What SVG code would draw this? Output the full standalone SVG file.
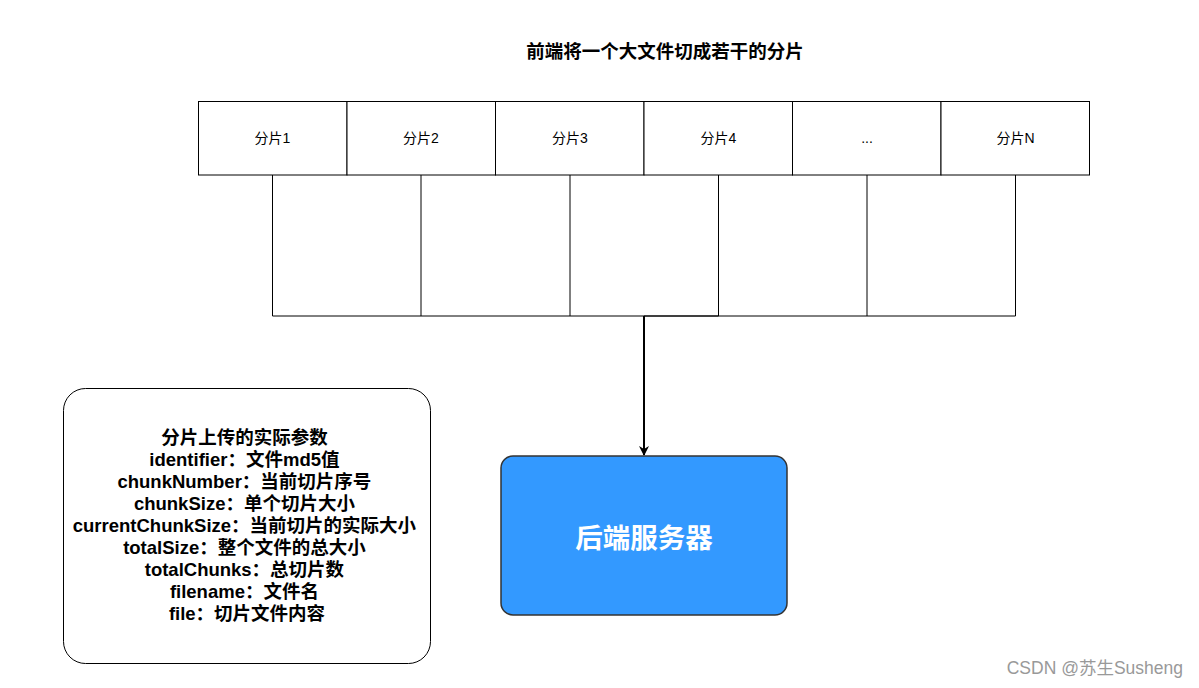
<svg xmlns="http://www.w3.org/2000/svg" width="1199" height="688" viewBox="0 0 1199 688">
<defs>
<style>
.cell{fill:#fff;stroke:#000;stroke-width:1}
.lbl{font-family:"Liberation Sans","Noto Sans CJK SC",sans-serif;font-size:14px;fill:#000;text-anchor:middle;dominant-baseline:central}
.edge{fill:none;stroke:#000;stroke-width:1}
.b{font-family:"Liberation Sans","Noto Sans CJK SC",sans-serif;font-weight:bold;text-anchor:middle}
</style>
<marker id="arr" viewBox="0 0 10 10" refX="9" refY="5" markerWidth="10" markerHeight="10" markerUnits="userSpaceOnUse" orient="auto">
<path d="M0,0 L10,5 L0,10 L3,5 Z" fill="#000"/>
</marker>
</defs>
<rect width="1199" height="688" fill="#fff"/>
<g id="title"><text class="b" x="665" y="57.5" font-size="18.5" fill="#000">前端将一个大文件切成若干的分片</text></g>
<g id="connectors">
<path class="edge" d="M272.5,175 V316 H644"/>
<path class="edge" d="M421,175 V316"/>
<path class="edge" d="M570,175 V316"/>
<path class="edge" d="M718.5,175 V316 H644"/>
<path class="edge" d="M867,175 V316"/>
<path class="edge" d="M1015.5,175 V316 H644"/>
<path d="M644,316 V455" fill="none" stroke="#000" stroke-width="2" marker-end="url(#arr)"/>
</g>
<g id="cell1"><rect class="cell" x="198.5" y="101.5" width="148.5" height="73.5"/><text class="lbl" x="272.5" y="137.5">分片1</text></g>
<g id="cell2"><rect class="cell" x="347" y="101.5" width="148.5" height="73.5"/><text class="lbl" x="421" y="137.5">分片2</text></g>
<g id="cell3"><rect class="cell" x="495.5" y="101.5" width="148.5" height="73.5"/><text class="lbl" x="570" y="137.5">分片3</text></g>
<g id="cell4"><rect class="cell" x="644" y="101.5" width="148.5" height="73.5"/><text class="lbl" x="718.5" y="137.5">分片4</text></g>
<g id="cell5"><rect class="cell" x="792.5" y="101.5" width="148.5" height="73.5"/><text class="lbl" x="867" y="137.5">...</text></g>
<g id="cell6"><rect class="cell" x="941" y="101.5" width="148.5" height="73.5"/><text class="lbl" x="1015.5" y="137.5">分片N</text></g>
<g id="params">
<rect x="63.5" y="388.5" width="367" height="275" rx="22" ry="22" fill="#fff" stroke="#000" stroke-width="1"/>
<text class="b" font-size="18.5" fill="#000">
<tspan x="247" y="443.5">分片上传的实际参数</tspan>
<tspan x="247" y="465.5">identifier：文件md5值</tspan>
<tspan x="247" y="487.5">chunkNumber：当前切片序号</tspan>
<tspan x="247" y="509.5">chunkSize：单个切片大小</tspan>
<tspan x="247" y="532">currentChunkSize：当前切片的实际大小</tspan>
<tspan x="247" y="554">totalSize：整个文件的总大小</tspan>
<tspan x="247" y="576">totalChunks：总切片数</tspan>
<tspan x="247" y="598">filename：文件名</tspan>
<tspan x="247" y="620">file：切片文件内容</tspan>
</text>
</g>
<g id="server">
<rect x="501" y="456" width="286" height="159" rx="12" ry="12" fill="#3399ff" stroke="#333" stroke-width="1.5"/>
<text class="b" x="644" y="548" font-size="27.5" fill="#fff">后端服务器</text>
</g>
<g id="watermark"><text x="1183" y="674" font-family="'Liberation Sans','Noto Sans CJK SC',sans-serif" font-size="17.5" fill="#999" text-anchor="end">CSDN @苏生Susheng</text></g>
</svg>
